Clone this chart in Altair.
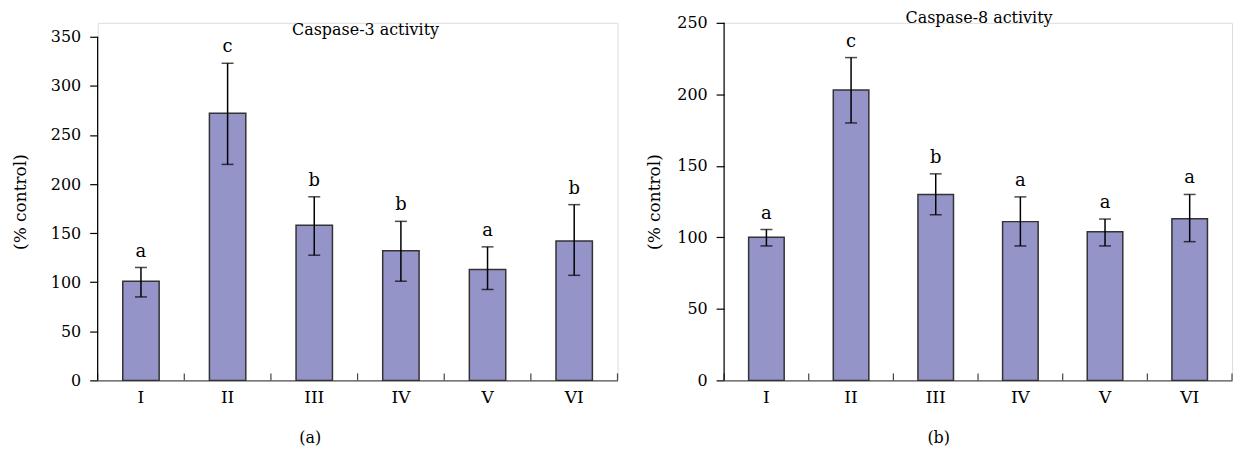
import altair as alt
import pandas as pd

categories = ["I", "II", "III", "IV", "V", "VI"]

c3_mean = [101, 272, 158, 132, 113, 142]
c3_hi = [115, 323, 187, 162, 136, 179]
c3_lo = [85, 220, 127.5, 101, 92.6, 107]
c3_letters = ["a", "c", "b", "b", "a", "b"]
c3_ticks = [0, 50, 100, 150, 200, 250, 300, 350]

c8_mean = [100, 203, 130, 111, 104, 113]
c8_hi = [105.5, 225.7, 144.4, 128.3, 112.8, 130]
c8_lo = [94, 180, 115.8, 94, 94, 97]
c8_letters = ["a", "c", "b", "a", "a", "a"]
c8_ticks = [0, 50, 100, 150, 200, 250]

FONT = "DejaVu Serif"
FILL = "#9494C8"
H = 359


def panel(mean, lo, hi, letters, ticks, ymax, title, sub, width, title_off, title_dx,
          title_dy, sub_x, ytitle_pad):
    df = pd.DataFrame({"cat": categories, "mean": mean, "lo": lo, "hi": hi, "letter": letters})
    base = alt.Chart(df)
    xs = alt.Scale(domain=categories, paddingInner=0, paddingOuter=0)
    ysc = alt.Scale(domain=[0, ymax], nice=False, zero=True)

    bars = base.mark_bar(
        width=alt.RelativeBandSize(0.42), color=FILL, stroke="#333333", strokeWidth=1.5
    ).encode(
        x=alt.X("cat:N", scale=xs, sort=categories,
                axis=alt.Axis(title=sub, ticks=False, labelAngle=0, labelFont=FONT,
                              labelFontSize=17, labelColor="black", labelPadding=9,
                              domainColor="#555555", domainWidth=1.5,
                              titleFont=FONT, titleFontSize=16, titleFontWeight="normal",
                              titleColor="black", titleX=sub_x, titleY=57,
                              titleAlign="center", titleBaseline="middle")),
        y=alt.Y("mean:Q", scale=ysc,
                axis=alt.Axis(values=ticks, title="(% control)", domain=False,
                              tickSize=8, tickColor="black", tickWidth=1.2,
                              labelFont=FONT, labelFontSize=16, labelColor="black",
                              labelPadding=9, grid=False,
                              titleFont=FONT, titleFontSize=17, titleFontWeight="normal",
                              titleColor="black", titlePadding=ytitle_pad)),
    )
    err = base.mark_rule(color="black", strokeWidth=1.5).encode(
        x=alt.X("cat:N", scale=xs, sort=categories), y="lo:Q", y2="hi:Q")
    cap_hi = base.mark_tick(orient="horizontal", size=12, thickness=1.5, color="black").encode(
        x=alt.X("cat:N", scale=xs, sort=categories), y="hi:Q")
    cap_lo = base.mark_tick(orient="horizontal", size=12, thickness=1.5, color="black").encode(
        x=alt.X("cat:N", scale=xs, sort=categories), y="lo:Q")
    txt = base.mark_text(baseline="bottom", dy=-7, font=FONT, fontSize=18, color="black").encode(
        x=alt.X("cat:N", scale=xs, sort=categories), y="hi:Q", text="letter:N")
    xt = base.mark_rule(color="#444444", strokeWidth=1.2).encode(
        x=alt.X("cat:N", scale=xs, sort=categories, bandPosition=0),
        y=alt.value(H), y2=alt.value(H - 7))
    xt_end = base.transform_filter(alt.datum.cat == categories[-1]).mark_rule(
        color="#444444", strokeWidth=1.2).encode(
        x=alt.X("cat:N", scale=xs, sort=categories, bandPosition=1),
        y=alt.value(H), y2=alt.value(H - 7))
    axis_df = pd.DataFrame({"y0": [0], "y1": [max(ticks)]})
    yaxis = alt.Chart(axis_df).mark_rule(color="black", strokeWidth=1.2).encode(
        x=alt.value(0), y=alt.Y("y0:Q", scale=ysc), y2="y1:Q")

    return alt.layer(bars, err, cap_hi, cap_lo, txt, xt, xt_end, yaxis).properties(
        width=width, height=H,
        title=alt.TitleParams(title, font=FONT, fontSize=16, fontWeight="normal",
                              color="black", offset=title_off, frame="group",
                              dx=title_dx, dy=title_dy),
    )


left = panel(c3_mean, c3_lo, c3_hi, c3_letters, c3_ticks, 350 * H / 345,
             "Caspase-3 activity", "(a)", 522, 0, 8, 15, 213, 21)
right = panel(c8_mean, c8_lo, c8_hi, c8_letters, c8_ticks, 250,
              "Caspase-8 activity", "(b)", 510, -11, 1, 0, 215, 13)

chart = alt.hconcat(left, right, spacing=107, bounds="flush").properties(
    padding={"left": 2, "top": 0, "right": 0, "bottom": 0}
).configure_view(stroke=None).configure(background="white")

chart.save("out.html", embed_options={"renderer": "svg", "actions": False})
